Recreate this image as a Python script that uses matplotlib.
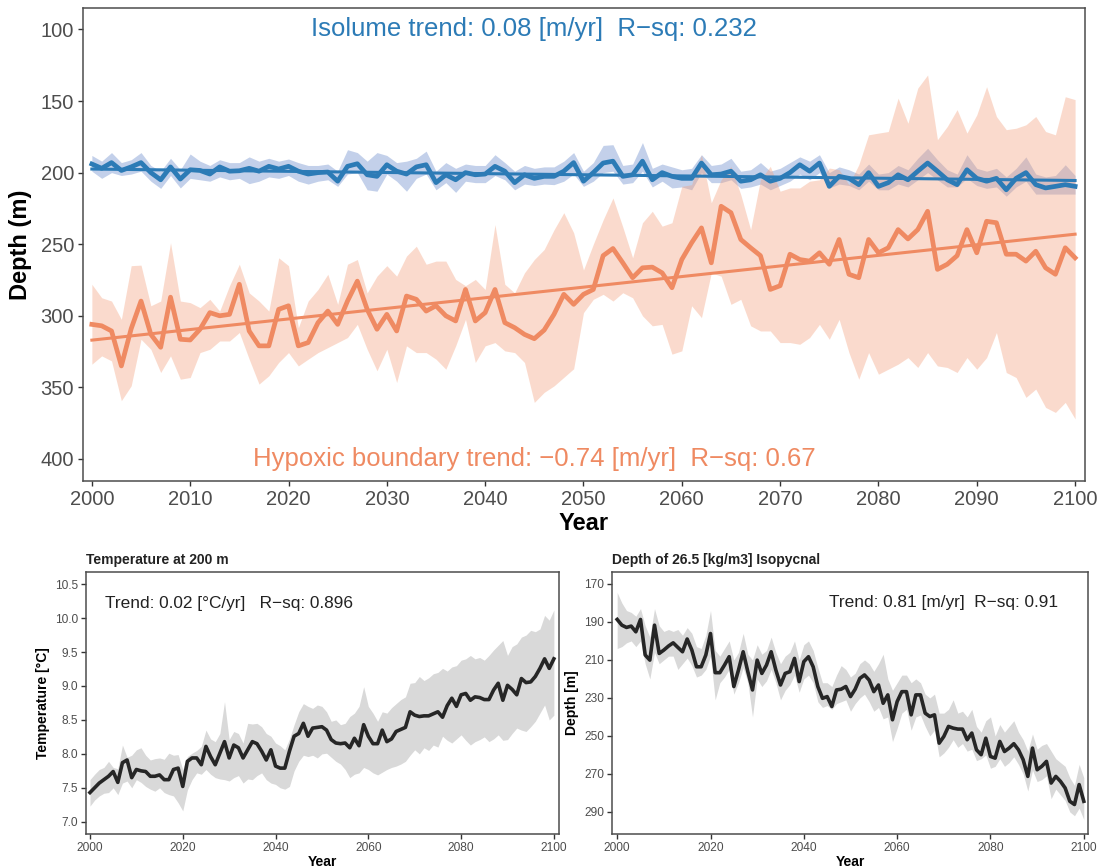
import numpy as np
import matplotlib.pyplot as plt

plt.rcParams['font.family'] = ['Liberation Sans', 'DejaVu Sans']

# ── data ──────────────────────────────────────────────────────────────────
years = np.arange(2000, 2101)

# isolume depth (m): ensemble mean and spread
isolume = [194, 197, 193, 198.5, 196, 193, 200, 205, 196, 204.5,
           198, 198.5, 201, 196, 199, 198.7, 197, 199, 195.6, 197.5,
           195.6, 199, 201, 200, 199.6, 206, 195.6, 193.8, 201.5, 202.6,
           194.5, 199, 201, 196, 194.5, 207, 201.5, 205, 200, 201.5,
           201, 195.6, 199, 207, 201.5, 204, 202.6, 202.6, 199, 193,
           206, 200, 193.3, 192, 202.6, 201.5, 192, 205, 200, 202.6,
           204, 204, 193.3, 201.5, 201, 199, 206, 205, 201.5, 206,
           204, 200, 194.5, 199, 193.3, 209.6, 202.6, 204, 208.4, 200,
           209.6, 207, 201.5, 205, 199, 193.3, 199, 205, 208.4, 198,
           204, 206, 204, 212, 204, 200, 208.4, 210.7, 209.6, 208.4,
           209.6]
isolume_lo = [188, 192, 186, 193, 191, 186, 195, 199, 190, 198,
              187, 192, 195, 191, 193, 193, 189, 192, 190, 192,
              190.5, 193, 195, 195, 194, 199, 184, 186, 192, 186,
              188, 193, 192, 190, 185, 199, 193, 197, 194, 195,
              195, 187.5, 193, 199, 195, 197, 196, 196, 192, 186,
              199, 193, 181, 180.5, 195, 194, 179, 197, 194, 196,
              198, 197, 187.5, 195, 194, 190, 199, 198, 193, 199,
              197, 193, 189, 192, 187.5, 200, 196, 198, 201, 194,
              201, 200, 195, 198, 190, 183, 191, 198, 201, 187.5,
              197, 199, 197, 203, 197, 189, 201, 203, 202, 194.5,
              202]
isolume_hi = [199, 204, 200, 202, 201, 199, 206, 211, 202, 210.7,
              204, 205, 206, 203, 205, 204, 207.7, 206, 203, 204,
              202, 206, 208, 206, 205, 209.6, 201, 200, 212, 213,
              201, 206, 213, 204, 201, 212, 207, 213.8, 206, 207,
              207, 202, 205, 212, 208, 209, 208, 208.4, 206, 201,
              209.6, 206, 200, 199, 208, 207, 199, 210, 206, 210.7,
              210, 212, 200, 207, 207, 205, 211, 210, 208, 212,
              209, 206, 201, 205, 200, 210.7, 208, 209, 212, 206,
              212, 212, 208, 210, 205, 200, 205, 210, 210, 204,
              209, 211, 210, 216.5, 210, 206, 215, 215, 215, 215,
              215]

# hypoxic boundary depth (m): ensemble mean and spread
hypoxic = [306, 307, 310.6, 335, 309, 289.7, 313, 322, 287, 316.4,
           316.9, 309.4, 297.8, 300, 299, 278, 310.6, 321, 321, 295.5,
           293, 321, 318.7, 304.8, 296.7, 306, 289.7, 275.8, 295.5, 309.4,
           299, 310.6, 286.2, 288.5, 296.7, 293, 300, 303.6, 281.6, 303.6,
           297.8, 281.6, 304.8, 308.3, 313, 316, 310, 299, 285, 292,
           285, 281.6, 258, 253, 263, 273.4, 266.5, 266, 270, 280.4,
           260.7, 249, 238.6, 263, 223.5, 228, 246.7, 252.5, 258, 281.6,
           279, 257, 260.7, 261.8, 256, 264, 246.7, 271, 273.4, 246.7,
           256, 252.5, 239.8, 246.3, 239.8, 227, 267.6, 264, 258, 239.8,
           256, 234, 235, 257, 257, 261.8, 254.9, 266.5, 271, 252.5,
           259.5]
hypoxic_lo = [278, 287.4, 289.7, 302.5, 265, 264.6, 293, 289.7, 249, 289.7,
              290.8, 294.3, 288.5, 296.7, 279, 264, 284, 289.7, 296.7, 259.5,
              265, 308.3, 289.7, 281.6, 271, 292, 264, 260.7, 284, 272.3,
              265, 272.3, 258.3, 251.4, 264, 261.8, 261.8, 274.6, 279, 274.6,
              281.6, 236.3, 278, 284, 270, 260.7, 253.7, 240, 228, 242,
              268, 250, 233, 217.7, 238, 259.5, 235, 227, 237.4, 235,
              209.6, 208.4, 187.5, 221, 205, 195.6, 215.4, 239.8, 205, 195.6,
              213, 210.7, 210.7, 206, 205, 196.8, 198, 208.4, 194.5, 173.6,
              172.4, 171.3, 148, 165.5, 141, 131.8, 177, 167.8, 156, 172.4,
              159.7, 140, 160.8, 170, 169, 166.6, 160.8, 171.3, 173.6, 147,
              149]
hypoxic_hi = [333.8, 328, 331.5, 359.3, 348.9, 316.4, 323.4, 339.6, 328, 344.3,
              343.1, 325.7, 323.4, 317.6, 317.6, 311.7, 330.3, 347.7, 341.9, 332.6,
              325.7, 335, 330.3, 325.7, 322.2, 318.7, 315.2, 306, 323.4, 338.4,
              323.4, 346.6, 321, 325.7, 325.7, 330.3, 337.3, 321, 302.5, 332.6,
              321, 318.7, 324.5, 325.7, 332.6, 360.5, 353.5, 349, 343, 337,
              297.8, 288.5, 285, 289.7, 283.9, 287.4, 300, 307, 306, 326.8,
              324.5, 293, 301.3, 270, 272.3, 292, 288.5, 307, 310.6, 310.6,
              318.7, 318.7, 319.9, 315.2, 306, 316.4, 302.5, 325.7, 344.3, 325.7,
              340.8, 337.3, 333.8, 329.2, 336.1, 325.7, 335, 336.1, 339.6, 329.2,
              337.3, 329.2, 311.7, 339.6, 343.1, 357, 351.2, 364, 367.5, 360.5,
              372]

# linear trends (depth at 2000, slope in m/yr as drawn on a depth axis)
ISO_T0, ISO_SLOPE = 197.5, 0.08
HYP_T0, HYP_SLOPE = 317.0, -0.74

# temperature at 200 m (°C)
temp = [7.43, 7.50, 7.57, 7.62, 7.67, 7.74, 7.58, 7.87, 7.91, 7.65,
        7.77, 7.75, 7.74, 7.67, 7.67, 7.69, 7.62, 7.62, 7.77, 7.79,
        7.52, 7.89, 7.94, 7.94, 7.84, 8.11, 7.96, 7.84, 8.01, 8.18,
        7.94, 8.13, 8.09, 7.94, 8.06, 8.18, 8.15, 8.04, 7.91, 8.06,
        7.82, 7.79, 7.79, 8.04, 8.26, 8.30, 8.45, 8.26, 8.38, 8.39,
        8.40, 8.35, 8.21, 8.16, 8.15, 8.16, 8.09, 8.23, 8.12, 8.43,
        8.26, 8.15, 8.15, 8.35, 8.18, 8.22, 8.33, 8.36, 8.39, 8.62,
        8.57, 8.55, 8.56, 8.56, 8.59, 8.62, 8.54, 8.71, 8.82, 8.70,
        8.87, 8.89, 8.79, 8.84, 8.83, 8.80, 8.80, 8.94, 9.04, 8.79,
        9.01, 8.95, 8.87, 9.11, 9.05, 9.06, 9.14, 9.26, 9.40, 9.26,
        9.40]
temp_hi = [7.62, 7.70, 7.77, 7.80, 7.89, 7.80, 7.78, 8.13, 7.95, 7.98,
           8.06, 8.09, 7.98, 7.91, 7.93, 7.94, 7.92, 8.01, 7.98, 7.99,
           7.77, 7.96, 8.01, 8.05, 8.11, 8.35, 8.22, 8.18, 8.30, 8.77,
           8.21, 8.33, 8.30, 8.16, 8.45, 8.44, 8.45, 8.40, 8.30, 8.26,
           8.16, 8.12, 8.06, 8.22, 8.43, 8.62, 8.74, 8.70, 8.67, 8.72,
           8.70, 8.62, 8.48, 8.50, 8.43, 8.45, 8.55, 8.60, 8.70, 8.99,
           8.70, 8.60, 8.48, 8.62, 8.60, 8.68, 8.74, 8.80, 8.84, 9.04,
           9.05, 9.14, 9.08, 9.12, 9.18, 9.20, 9.26, 9.22, 9.28, 9.30,
           9.38, 9.40, 9.45, 9.40, 9.42, 9.38, 9.45, 9.53, 9.60, 9.67,
           9.45, 9.58, 9.62, 9.72, 9.75, 9.82, 9.80, 9.84, 10.04, 9.97,
           10.12]
temp_lo = [7.23, 7.32, 7.38, 7.42, 7.43, 7.50, 7.40, 7.57, 7.60, 7.50,
           7.62, 7.58, 7.52, 7.48, 7.45, 7.50, 7.43, 7.40, 7.38, 7.28,
           7.16, 7.47, 7.62, 7.72, 7.70, 7.77, 7.70, 7.65, 7.63, 7.62,
           7.60, 7.65, 7.68, 7.57, 7.63, 7.62, 7.68, 7.72, 7.62, 7.57,
           7.55, 7.50, 7.48, 7.52, 7.75, 7.89, 7.98, 7.96, 7.98, 7.94,
           8.00, 8.01, 7.95, 7.89, 7.85, 7.77, 7.65, 7.70, 7.72, 7.80,
           7.77, 7.72, 7.69, 7.73, 7.77, 7.80, 7.82, 7.85, 7.89, 7.98,
           8.06, 8.00, 8.09, 8.05, 8.13, 8.10, 8.26, 8.20, 8.16, 8.22,
           8.28, 8.20, 8.13, 8.18, 8.21, 8.25, 8.18, 8.22, 8.28, 8.20,
           8.21, 8.30, 8.38, 8.35, 8.33, 8.40, 8.48, 8.60, 8.72, 8.50,
           8.57]

# depth of the 26.5 kg/m3 isopycnal (m)
isopyc = [188.7, 191.7, 192.9, 192.2, 195.2, 188.7, 207.4, 210.1, 191.7, 206.6,
          204.8, 202.7, 201, 203.4, 205.7, 199, 204.8, 213.6, 213.6, 207.4,
          196.1, 216.7, 216.7, 212.7, 208.3, 224, 215.3, 205.7, 216.2, 225.8,
          210.1, 217.1, 212.7, 205.7, 215.3, 223.2, 217.1, 216.2, 209.2, 221.4,
          210.9, 208.3, 213.6, 224, 230.2, 229.3, 234.5, 225.8, 225.4, 224,
          229.3, 225.4, 219.7, 217.9, 220.6, 226.7, 223.2, 232.8, 228.4, 241.5,
          231.9, 226.7, 226.7, 238.9, 228.4, 228.4, 238, 239.8, 238.9, 253.8,
          250.3, 245, 245.9, 246.4, 246.4, 252, 248.5, 257.3, 259.9, 251.2,
          260.8, 261.7, 252.9, 258.2, 256.4, 254.1, 257.3, 262.5, 271.3, 256.4,
          267.8, 266, 263.4, 274.8, 271.3, 273.9, 277.4, 284.4, 286.1, 275.6,
          284.4]
isopyc_lo = [174.5, 180, 184, 185, 187, 183, 192, 198, 183, 192,
             195, 194, 195, 194, 197, 193, 196, 203, 204, 197,
             184, 205, 208, 204, 200, 210, 206, 196, 207, 210,
             202, 207, 205, 198, 206, 212, 208, 206, 200, 210,
             202, 200, 205, 214, 222, 222, 224, 218, 213, 215,
             219, 217, 212, 210, 212, 216, 212, 207, 220, 226,
             222, 218, 218, 222, 220, 222, 228, 230, 228, 238,
             238, 236, 231, 238, 237, 240, 236, 245, 248, 242,
             240, 250, 244, 248, 245, 242, 248, 252, 258, 249,
             257, 255, 254, 258, 262, 264, 266, 272, 276, 265,
             272]
isopyc_hi = [204, 203, 201, 200, 203, 200, 212, 220, 206, 212,
             210, 208, 208, 215, 212, 209, 213, 219, 218, 215,
             208, 231, 222, 219, 215, 228, 222, 214, 222, 240,
             220, 224, 221, 215, 222, 231, 226, 223, 218, 227,
             220, 218, 222, 232, 235, 234, 236, 233, 232, 231,
             237, 233, 230, 228, 232, 237, 235, 241, 240, 253,
             246, 238, 236, 247, 240, 239, 245, 250, 247, 261,
             259, 256, 252, 256, 254, 258, 257, 263, 262, 260,
             267, 266, 262, 266, 264, 261, 265, 270, 279, 268,
             274, 273, 271, 283, 278, 281, 284, 290, 292, 288,
             294]

# ── colours ───────────────────────────────────────────────────────────────
BLUE = '#2C7BB6'
BLUE_FILL = '#6A8BCB'
ORANGE = '#EF8A62'
ORANGE_FILL = '#F4A07C'
DARK = '#262626'
GREY_FILL = '#D9D9D9'
AXIS_COL = '#4D4D4D'

fig = plt.figure(figsize=(11.01, 8.67), dpi=100)


def style_axes(ax, tick_size, pad):
    for s in ax.spines.values():
        s.set_color(AXIS_COL)
        s.set_linewidth(1.1)
    ax.tick_params(axis='both', colors='#333333', labelcolor='#4D4D4D',
                   labelsize=tick_size, length=3.5, width=1.0, pad=pad)


# ── top panel: isolume and hypoxic boundary ──────────────────────────────
ax = fig.add_axes([0.0754, 0.4452, 0.910, 0.5456])
ax.fill_between(years, isolume_lo, isolume_hi, color=BLUE_FILL, alpha=0.4,
                lw=0)
ax.plot(years, isolume, color=BLUE, lw=3.4)
ax.plot(years, ISO_T0 + ISO_SLOPE * (years - 2000), color=BLUE, lw=2.2)
# hypoxic ribbon goes over the isolume, tinting it where they overlap
ax.fill_between(years, hypoxic_lo, hypoxic_hi, color=ORANGE_FILL, alpha=0.38,
                lw=0)
ax.plot(years, hypoxic, color=ORANGE, lw=3.4)
ax.plot(years, HYP_T0 + HYP_SLOPE * (years - 2000), color=ORANGE, lw=2.2)

ax.set_xlim(1999.1, 2101.0)
ax.set_ylim(415.4, 85.0)
ax.set_xticks(np.arange(2000, 2101, 10))
ax.set_yticks([100, 150, 200, 250, 300, 350, 400])
style_axes(ax, 14.5, 3)
ax.set_xlabel('Year', fontsize=17, fontweight='bold', labelpad=2)
ax.set_ylabel('Depth (m)', fontsize=17, fontweight='bold', labelpad=6)
ax.text(2045, 100, 'Isolume trend: 0.08 [m/yr]  R\u2212sq: 0.232',
        color=BLUE, fontsize=18.5, ha='center', va='center')
ax.text(2045, 400, 'Hypoxic boundary trend: \u22120.74 [m/yr]  R\u2212sq: 0.67',
        color=ORANGE, fontsize=18.5, ha='center', va='center')

# ── bottom left: temperature at 200 m ─────────────────────────────────────
ax2 = fig.add_axes([0.0781, 0.0381, 0.4296, 0.3022])
ax2.fill_between(years, temp_lo, temp_hi, color=GREY_FILL, lw=0)
ax2.plot(years, temp, color=DARK, lw=2.6)
ax2.set_xlim(1999.14, 2101.1)
ax2.set_ylim(6.82, 10.68)
ax2.set_xticks(np.arange(2000, 2101, 20))
ax2.set_yticks(np.arange(7.0, 10.51, 0.5))
ax2.set_yticklabels([f'{v:.1f}' for v in np.arange(7.0, 10.51, 0.5)])
style_axes(ax2, 8.6, 2)
ax2.set_xlabel('Year', fontsize=10, fontweight='bold', labelpad=1)
ax2.set_ylabel('Temperature [\u00b0C]', fontsize=10, fontweight='bold',
               labelpad=4)
ax2.set_title('Temperature at 200 m', fontsize=10, fontweight='bold',
              loc='left', x=0.0, pad=6, color='#222222')
ax2.text(2030, 10.22, 'Trend: 0.02 [\u00b0C/yr]   R\u2212sq: 0.896',
         fontsize=12.4, ha='center', va='center', color='#222222')

# ── bottom right: isopycnal depth ─────────────────────────────────────────
ax3 = fig.add_axes([0.5559, 0.0381, 0.4323, 0.3022])
ax3.fill_between(years, isopyc_lo, isopyc_hi, color=GREY_FILL, lw=0)
ax3.plot(years, isopyc, color=DARK, lw=2.6)
ax3.set_xlim(1998.9, 2100.9)
ax3.set_ylim(301.6, 163.7)
ax3.set_xticks(np.arange(2000, 2101, 20))
ax3.set_yticks(np.arange(170, 291, 20))
style_axes(ax3, 8.6, 2)
ax3.set_xlabel('Year', fontsize=10, fontweight='bold', labelpad=1)
ax3.set_ylabel('Depth [m]', fontsize=10, fontweight='bold', labelpad=4)
ax3.set_title('Depth of 26.5 [kg/m3] Isopycnal', fontsize=10,
              fontweight='bold', loc='left', pad=6, color='#222222')
ax3.text(2070, 180, 'Trend: 0.81 [m/yr]  R\u2212sq: 0.91',
         fontsize=12.4, ha='center', va='center', color='#222222')

fig.savefig('out.png', dpi=100)
